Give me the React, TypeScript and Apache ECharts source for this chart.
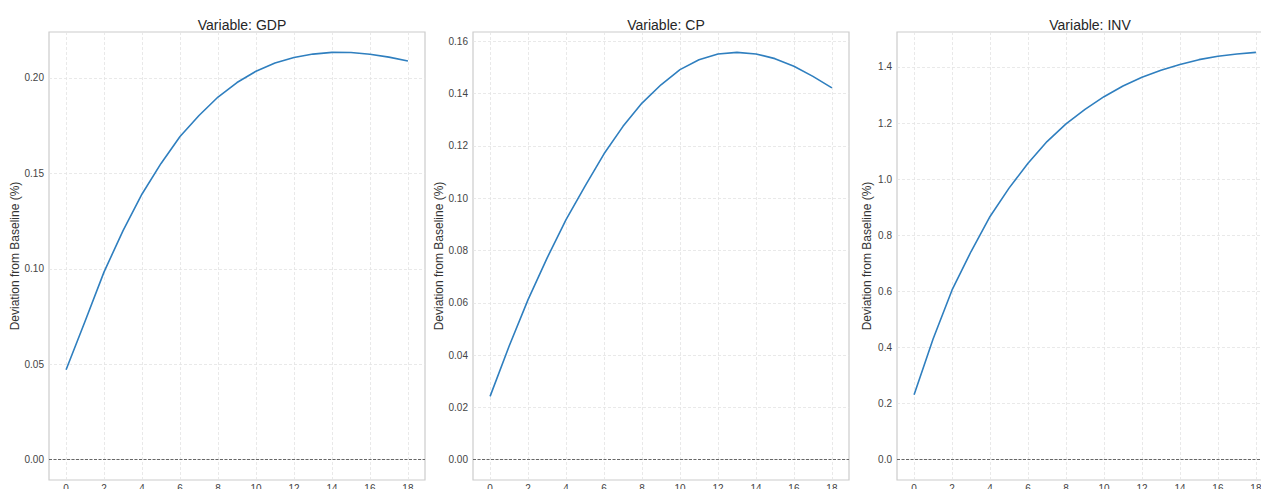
import React, { useEffect, useRef } from "react";
import * as echarts from "echarts";

const periods = Array.from({ length: 19 }, (_, i) => i);
const gdpValues = [0.0471, 0.0725, 0.0984, 0.1200, 0.1392, 0.1552, 0.1693, 0.1803, 0.1900, 0.1976, 0.2035, 0.2078, 0.2107, 0.2125, 0.2134, 0.2133, 0.2124, 0.2109, 0.2089];
const cpValues = [0.0242, 0.0434, 0.0612, 0.0771, 0.0918, 0.1046, 0.1170, 0.1275, 0.1364, 0.1434, 0.1492, 0.1530, 0.1552, 0.1558, 0.1552, 0.1534, 0.1505, 0.1466, 0.1422];
const invValues = [0.2315, 0.4300, 0.6050, 0.7420, 0.8670, 0.9680, 1.0570, 1.1340, 1.1970, 1.2490, 1.2940, 1.3320, 1.3630, 1.3880, 1.4090, 1.4260, 1.4380, 1.4460, 1.4520];
const panelNames = ["GDP", "CP", "INV"];
const xTicks = [0, 2, 4, 6, 8, 10, 12, 14, 16, 18];
const gdpTicks = [0.0, 0.05, 0.1, 0.15, 0.2];
const cpTicks = [0.0, 0.02, 0.04, 0.06, 0.08, 0.1, 0.12, 0.14, 0.16];
const invTicks = [0.0, 0.2, 0.4, 0.6, 0.8, 1.0, 1.2, 1.4];
const yLabel = "Deviation from Baseline (%)";

const FONT = "'Liberation Sans', Arial, 'DejaVu Sans', sans-serif";

export default function App() {
  const ref = useRef<HTMLDivElement>(null);
  useEffect(() => {
    if (!ref.current) return;
    const chart = echarts.init(ref.current, null, { renderer: "svg" });
    const seriesData = [gdpValues, cpValues, invValues];
    const ticks = [gdpTicks, cpTicks, invTicks];
    const decimals = [2, 2, 1];
    const lefts = [49, 473, 897];
    const gridW = 376;
    const grids = lefts.map((l) => ({
      left: l,
      top: 32,
      width: gridW,
      height: 448,
      show: true,
      containLabel: false,
      outerBoundsMode: "none",
      borderColor: "#cccccc",
      borderWidth: 1.2,
      backgroundColor: "#ffffff",
    }));
    const splitLine = {
      show: true,
      lineStyle: { color: "#e3e3e3", type: [3, 2], width: 0.8 },
    };
    const xAxes = lefts.map((_, i) => ({
      type: "value",
      gridIndex: i,
      min: -0.9,
      max: 18.9,
      axisLine: { show: false },
      axisTick: { show: false, customValues: xTicks },
      axisLabel: {
        customValues: xTicks,
        color: "#444",
        fontSize: 10,
        fontFamily: FONT,
        margin: 3,
      },
      splitLine,
    }));
    const yAxes = lefts.map((_, i) => {
      const dmax = Math.max(...seriesData[i]);
      const pad = dmax * 0.05;
      return {
        type: "value",
        gridIndex: i,
        min: -pad,
        max: dmax + pad,
        axisLine: { show: false },
        axisTick: { show: false, customValues: ticks[i] },
        axisLabel: {
          customValues: ticks[i],
          color: "#444",
          fontSize: 10,
          fontFamily: FONT,
          margin: 5,
          formatter: (v: number) => v.toFixed(decimals[i]),
        },
        splitLine,
        name: yLabel,
        nameLocation: "middle",
        nameRotate: 90,
        nameGap: i === 2 ? 24 : 28,
        nameTextStyle: { color: "#333", fontSize: 12, fontFamily: FONT },
      };
    });
    const series = seriesData.map((d, i) => ({
      type: "line",
      xAxisIndex: i,
      yAxisIndex: i,
      data: periods.map((p, k) => [p, d[k]]),
      showSymbol: false,
      symbol: "none",
      lineStyle: { color: "#2f7fbf", width: 1.6 },
      z: 3,
      markLine: {
        silent: true,
        symbol: "none",
        label: { show: false },
        lineStyle: { color: "#666", type: [3, 1.5], width: 1 },
        data: [{ yAxis: 0 }],
        z: 2,
      },
    }));
    const titles = lefts.map((l, i) => ({
      text: "Variable: " + panelNames[i],
      left: l + gridW / 2,
      top: 13,
      textAlign: "center",
      textStyle: { color: "#262626", fontSize: 14, fontWeight: "normal", fontFamily: FONT },
    }));
    chart.setOption({
      animation: false,
      backgroundColor: "#ffffff",
      title: titles,
      grid: grids,
      xAxis: xAxes,
      yAxis: yAxes,
      series,
    });
    return () => chart.dispose();
  }, []);
  return (
    <div
      style={{
        position: "absolute",
        left: 0,
        top: 0,
        width: 1261,
        height: 489,
        overflow: "hidden",
        background: "#fff",
      }}
    >
      <div ref={ref} style={{ width: 1290, height: 489 }} />
    </div>
  );
}
